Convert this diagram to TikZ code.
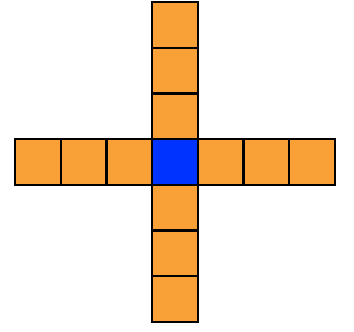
\documentclass[tikz,border=0pt]{standalone}
\definecolor{cellorange}{HTML}{F9A136}
\definecolor{cellblue}{HTML}{0033FF}
\begin{document}
\begin{tikzpicture}[x=1pt,y=1pt,
  cell/.style={draw=black, line width=2.2pt, fill=cellorange, minimum size=45.7pt, inner sep=0pt, outer sep=0pt},
  centercell/.style={cell, fill=cellblue}]
\useasboundingbox (0,0) rectangle (354,332);
\foreach \i in {1,2,3} {
  \node[cell] (u\i) at (175,170+45.7*\i) {};
  \node[cell] (d\i) at (175,170-45.7*\i) {};
  \node[cell] (l\i) at (175-45.7*\i,170) {};
  \node[cell] (r\i) at (175+45.7*\i,170) {};
}
\node[centercell] (c) at (175,170) {};
\end{tikzpicture}
\end{document}
